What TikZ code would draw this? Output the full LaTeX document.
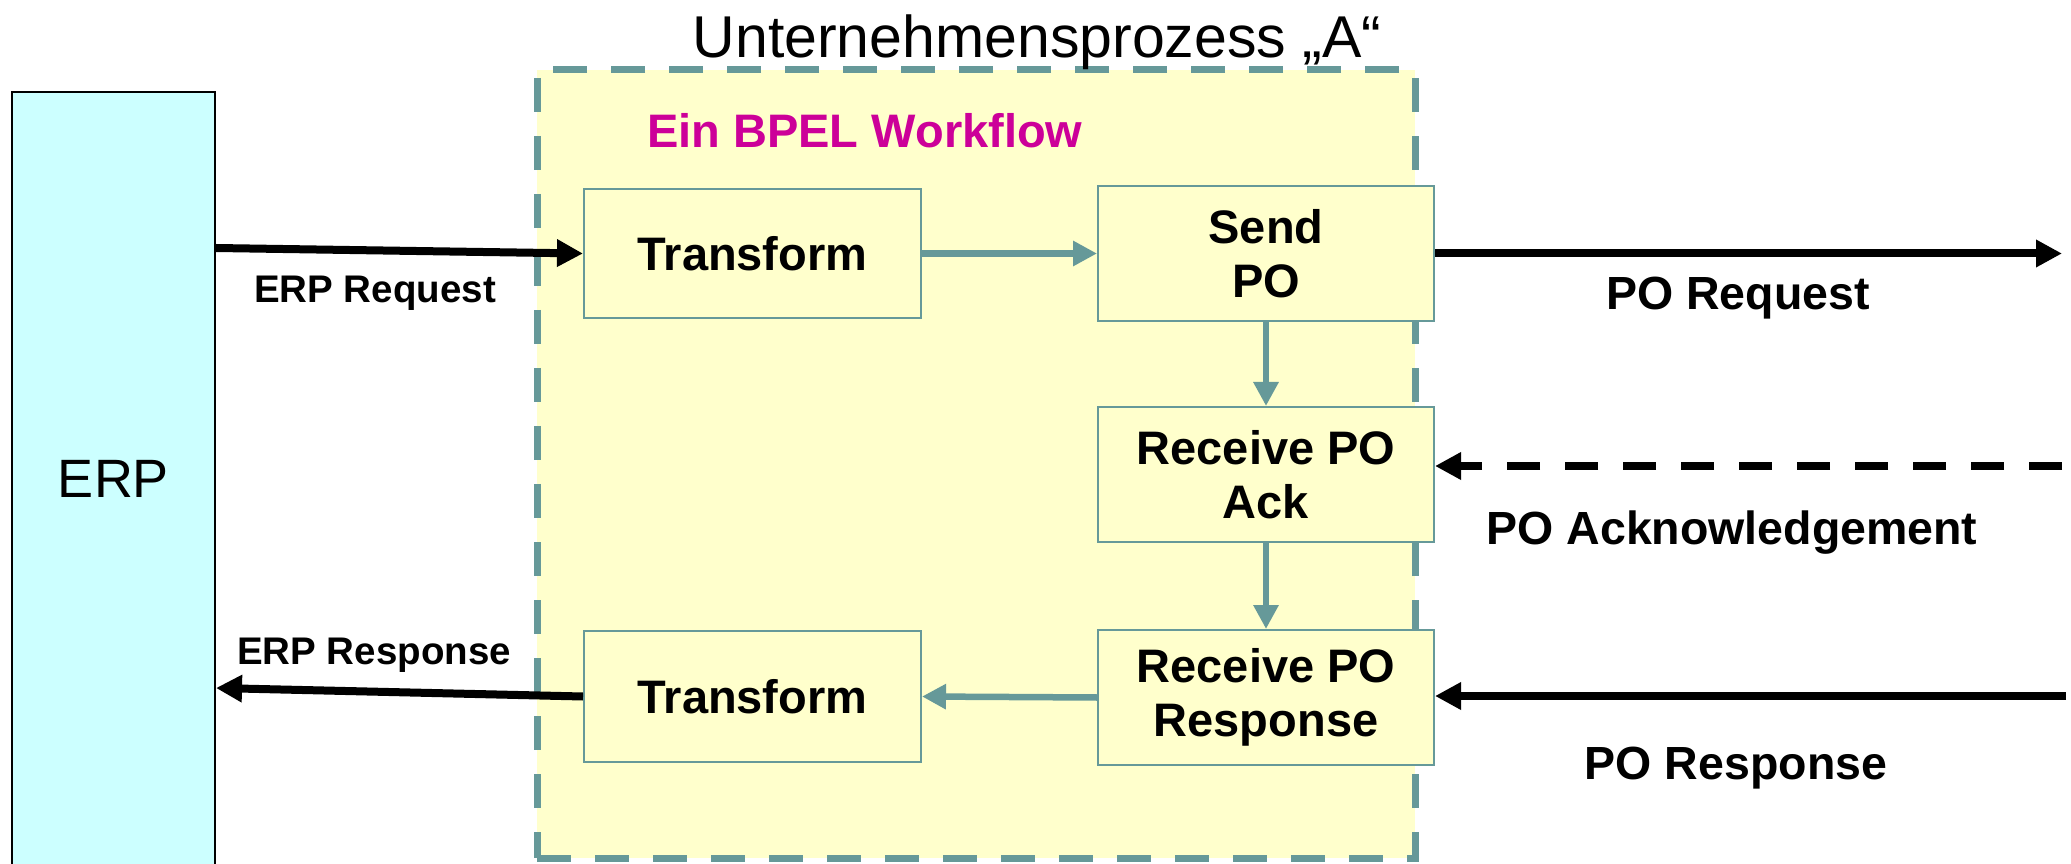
\documentclass[tikz,border=0pt]{standalone}
\usepackage{fontspec}
\setmainfont{Liberation Sans}
\usetikzlibrary{arrows.meta}
\definecolor{erpcyan}{HTML}{CCFFFF}
\definecolor{procyellow}{HTML}{FFFFCC}
\definecolor{tealc}{HTML}{669999}
\definecolor{bpelmag}{HTML}{CC0099}
\begin{document}
\begin{tikzpicture}[x=1pt,y=1pt,
  proc/.style={draw=tealc, line width=2pt, fill=procyellow, inner sep=0pt,
    minimum width=336pt, minimum height=135pt, align=center,
    font=\fontsize{47}{54}\selectfont\bfseries},
  blk/.style={draw=black, line width=8pt, -{Triangle[length=26pt,width=26pt]}},
  tl/.style={draw=tealc, line width=6.5pt, -{Triangle[length=24pt,width=24pt]}},
  biglbl/.style={anchor=base, inner sep=0pt, font=\fontsize{46.5}{54}\selectfont\bfseries},
  smalllbl/.style={anchor=base, inner sep=0pt, font=\fontsize{38.5}{46}\selectfont\bfseries}]
\useasboundingbox (0,0) rectangle (2071,863);
% workflow container
\node[draw=tealc, line width=7pt, dash pattern=on 34pt off 24pt, fill=procyellow,
  minimum width=878pt, minimum height=788pt, inner sep=0pt] (wf) at (976,399) {};
% ERP system
\node[draw=black, line width=2pt, fill=erpcyan, minimum width=203pt, minimum height=774pt,
  inner sep=0pt, font=\fontsize{54}{60}\selectfont] (erp) at (113.5,384) {ERP};
% titles
\node[anchor=base, inner sep=0pt, font=\fontsize{59}{70}\selectfont] (title) at (1037,805) {Unternehmensprozess „A“};
\node[anchor=base west, inner sep=0pt, text=bpelmag, font=\fontsize{47}{54}\selectfont\bfseries] (bpel) at (647,715) {Ein BPEL Workflow};
% process steps
\node[proc, minimum width=337pt, minimum height=129pt] (t1) at (752.5,609.5) {Transform};
\node[proc] (send) at (1266,609.5) {Send\\PO};
\node[proc] (ack) at (1266,388.5) {Receive PO\\Ack};
\node[proc] (resp) at (1266,165.5) {Receive PO\\Response};
\node[proc, minimum width=337pt, minimum height=131pt] (t2) at (752.5,166.5) {Transform};
% free ends
\coordinate (sendout) at (2062,609.5);
\coordinate (ackin) at (2062,397);
\coordinate (respin) at (2066,167);
% connectors
\draw[blk] ([yshift=231pt]erp.east) -- (t1.west);
\draw[tl] (t1.east) -- (send.west);
\draw[blk] (send.east) -- (sendout);
\draw[tl] (send.south) -- (ack.north);
\draw[blk, dash pattern=on 33pt off 25pt] (ackin) -- (ackin -| ack.east);
\draw[tl] (ack.south) -- (resp.north);
\draw[blk] (respin) -- (respin -| resp.east);
\draw[tl] (resp.west) -- (t2.east);
\draw[blk] (t2.west) -- ([yshift=-209pt]erp.east);
% labels
\node[smalllbl] (lreq) at (375,560) {ERP Request};
\node[smalllbl] (lresp) at (374,199) {ERP Response};
\node[biglbl] (lpor) at (1738,553) {PO Request};
\node[biglbl] (lack) at (1732,319) {PO Acknowledgement};
\node[biglbl] (lpresp) at (1736,84) {PO Response};
\end{tikzpicture}
\end{document}
